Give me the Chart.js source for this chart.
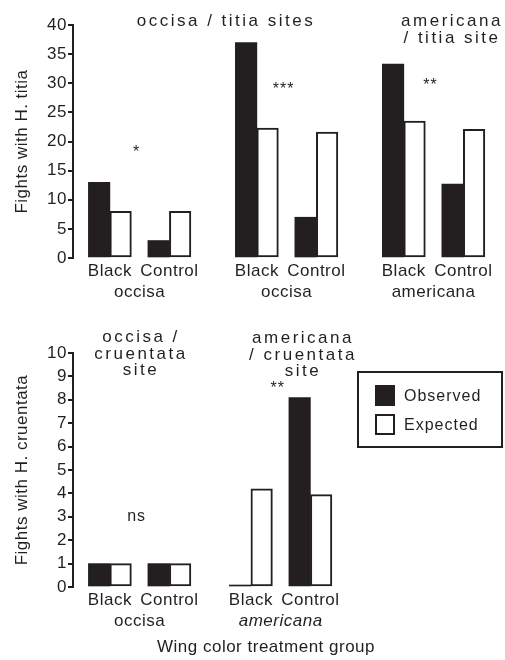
<!DOCTYPE html>
<html>
<head>
<meta charset="utf-8">
<script src="https://cdn.jsdelivr.net/npm/chart.js@4.4.1/dist/chart.umd.min.js"></script>
<style>
  body { margin: 0; background: #fff; }
  #wrap { position: relative; width: 505px; height: 660px; overflow: hidden;
          font-family: "Liberation Sans", Arial, Helvetica, sans-serif; color: #231f20; }
  canvas { position: absolute; left: 0; }
  .site { position: absolute; transform: translateX(-50%); text-align: center; font-size: 17px;
          line-height: 16.5px; letter-spacing: 2.5px; white-space: nowrap; }
  #legend { position: absolute; left: 357px; top: 371px; width: 142px; height: 73px;
            border: 2px solid #231f20; }
  .lg-row { position: absolute; left: 16px; height: 21px; display: flex; align-items: center; }
  .lg-sw { width: 20px; height: 21px; box-sizing: border-box; margin-right: 9px; }
  .lg-tx { font-size: 16px; letter-spacing: 1px; }
</style>
</head>
<body>
<div id="wrap">
  <canvas id="topChart" width="505" height="310" style="top:0"></canvas>
  <canvas id="bottomChart" width="505" height="360" style="top:300px"></canvas>
  <div id="legend"></div>
</div>
<script>
// ---------------- data ----------------
const treatments = ['Black', 'Control'];
const seriesNames = ['Observed', 'Expected'];

// Upper panel: fights with H. titia
const titiaSpecies = ['occisa', 'occisa', 'americana'];
const titiaObserved = [13, 3, 37, 7, 33.3, 12.7];
const titiaExpected = [8, 8, 22.3, 21.6, 23.5, 22.1];
const titiaSig = ['*', '***', '**'];
const titiaSiteTitles = [['occisa / titia sites'], ['americana', '/ titia site']];

// Lower panel: fights with H. cruentata
const cruentataSpecies = ['occisa', 'americana'];
const cruentataObserved = [1, 1, 0, 8.1];
const cruentataExpected = [1, 1, 4.2, 3.95];
const cruentataSig = ['ns', '**'];
const cruentataSiteTitles = [['occisa /', 'cruentata', 'site'], ['americana', '/ cruentata', 'site']];

// ---------------- style / layout ----------------
const INK = '#231f20';
const FAMILY = '"Liberation Sans", Arial, Helvetica, sans-serif';
const FS = 17;
const PX_PER_UNIT = 59.5;
const X_MIN = -0.62;

const spacingPlugin = {
  id: 'spacing',
  beforeUpdate(chart) { chart.ctx.letterSpacing = '0.5px'; },
  beforeDraw(chart) { chart.ctx.letterSpacing = '0.5px'; }
};

const sigPlugin = {
  id: 'sig',
  afterDatasetsDraw(chart, args, opts) {
    const ctx = chart.ctx;
    const xs = chart.scales.x, ys = chart.scales.y;
    ctx.save();
    ctx.letterSpacing = '1px';
    ctx.font = '16px ' + FAMILY;
    ctx.fillStyle = INK;
    ctx.textAlign = 'center';
    ctx.textBaseline = 'alphabetic';
    opts.labels.forEach((txt, g) => {
      const x = xs.getPixelForValue(g * opts.gap + 0.45);
      const y = ys.getPixelForValue(opts.levels[g]);
      ctx.fillText(txt, x, y);
    });
    ctx.restore();
  }
};

function makePanel(canvasId, p) {
  const xs = [];
  p.species.forEach((s, g) => treatments.forEach((t, k) => xs.push(g * p.gap + k)));
  const tickVals = [], tickLabels = [], tickItalic = [];
  p.species.forEach((s, g) => {
    tickVals.push(g * p.gap); tickLabels.push(treatments[0]); tickItalic.push(false);
    tickVals.push(g * p.gap + 0.5); tickLabels.push(['', s]); tickItalic.push(!!(p.italic && p.italic[g]));
    tickVals.push(g * p.gap + 1); tickLabels.push(treatments[1]); tickItalic.push(false);
  });
  const areaWidth = 505 - 73 - p.padRight;
  return new Chart(document.getElementById(canvasId), {
    type: 'bar',
    data: {
      datasets: [
        { label: seriesNames[0], data: p.observed.map((v, i) => ({ x: xs[i], y: v })),
          backgroundColor: INK, borderColor: INK, borderWidth: 0, barThickness: 21.5, minBarLength: 2 },
        { label: seriesNames[1], data: p.expected.map((v, i) => ({ x: xs[i], y: v })),
          backgroundColor: '#ffffff', borderColor: INK, borderWidth: 2, borderSkipped: false, barThickness: 21.5 }
      ]
    },
    options: {
      responsive: false,
      animation: false,
      devicePixelRatio: 1,
      layout: { padding: { left: 8, top: p.padTop, right: p.padRight, bottom: 0 } },
      plugins: {
        legend: { display: false },
        tooltip: { enabled: false },
        sig: { labels: p.sig, levels: p.sigLevels, gap: p.gap }
      },
      scales: {
        x: {
          type: 'linear', bounds: 'data', offset: false,
          min: X_MIN, max: X_MIN + areaWidth / PX_PER_UNIT,
          grid: { display: false, drawTicks: false }, border: { display: false },
          ticks: {
            autoSkip: false, maxRotation: 0, minRotation: 0, padding: 3, color: INK,
            font: (c) => ({ family: FAMILY, size: FS, lineHeight: 1.22, style: tickItalic[c.index] ? 'italic' : 'normal' }),
            callback: (v, i) => tickLabels[i]
          },
          afterBuildTicks(s) { s.ticks = tickVals.map(v => ({ value: v })); },
          afterFit(s) { s.height = p.xHeight; },
          title: p.xTitle ? { display: true, text: p.xTitle, color: INK,
                              font: { family: FAMILY, size: FS }, padding: { top: 0, bottom: 2 } }
                          : { display: false }
        },
        y: {
          min: 0, max: p.yMax,
          ticks: { stepSize: p.yStep, padding: 1, color: INK, font: { family: FAMILY, size: FS } },
          grid: { display: true, drawOnChartArea: false, drawTicks: true, tickLength: 5, lineWidth: 2, color: INK },
          border: { display: true, width: 2, color: INK },
          title: { display: true, text: p.yTitle, color: INK, font: { family: FAMILY, size: FS },
                   padding: { top: 4, bottom: 0 } },
          afterFit(s) { s.width = 65; }
        }
      }
    },
    plugins: [spacingPlugin, sigPlugin]
  });
}

const topChart = makePanel('topChart', {
  species: titiaSpecies, observed: titiaObserved, expected: titiaExpected,
  sig: titiaSig, sigLevels: [17.3, 28.1, 28.9], gap: 2.47,
  yMax: 40, yStep: 5, yTitle: 'Fights with H. titia',
  padTop: 25, padRight: 5, xHeight: 52
});

const bottomChart = makePanel('bottomChart', {
  species: cruentataSpecies, observed: cruentataObserved, expected: cruentataExpected,
  sig: cruentataSig, sigLevels: [2.8, 8.3], gap: 2.37, italic: [false, true],
  yMax: 10, yStep: 1, yTitle: 'Fights with H. cruentata',
  padTop: 53, padRight: 46, xHeight: 73, xTitle: 'Wing color treatment group'
});

// ---------------- site titles (text) ----------------
function addTitles(titles, places) {
  const wrap = document.getElementById('wrap');
  titles.forEach((lines, i) => {
    const d = document.createElement('div');
    d.className = 'site';
    d.style.left = places[i].x + 'px';
    d.style.top = places[i].top + 'px';
    lines.forEach((ln, j) => {
      if (j) d.appendChild(document.createElement('br'));
      d.appendChild(document.createTextNode(ln));
    });
    wrap.appendChild(d);
  });
}
addTitles(titiaSiteTitles, [{ x: 226, top: 13 }, { x: 452, top: 13 }]);
addTitles(cruentataSiteTitles, [{ x: 141, top: 329 }, { x: 303, top: 330 }]);

// ---------------- legend from the datasets ----------------
const legendEl = document.getElementById('legend');
bottomChart.data.datasets.forEach((ds, i) => {
  const row = document.createElement('div');
  row.className = 'lg-row';
  row.style.top = (12 + 29 * i) + 'px';
  const sw = document.createElement('div');
  sw.className = 'lg-sw';
  sw.style.background = ds.backgroundColor;
  sw.style.border = (ds.borderWidth ? ds.borderWidth : 0) + 'px solid ' + ds.borderColor;
  const tx = document.createElement('span');
  tx.className = 'lg-tx';
  tx.textContent = ds.label;
  row.appendChild(sw); row.appendChild(tx);
  legendEl.appendChild(row);
});
</script>
</body>
</html>
